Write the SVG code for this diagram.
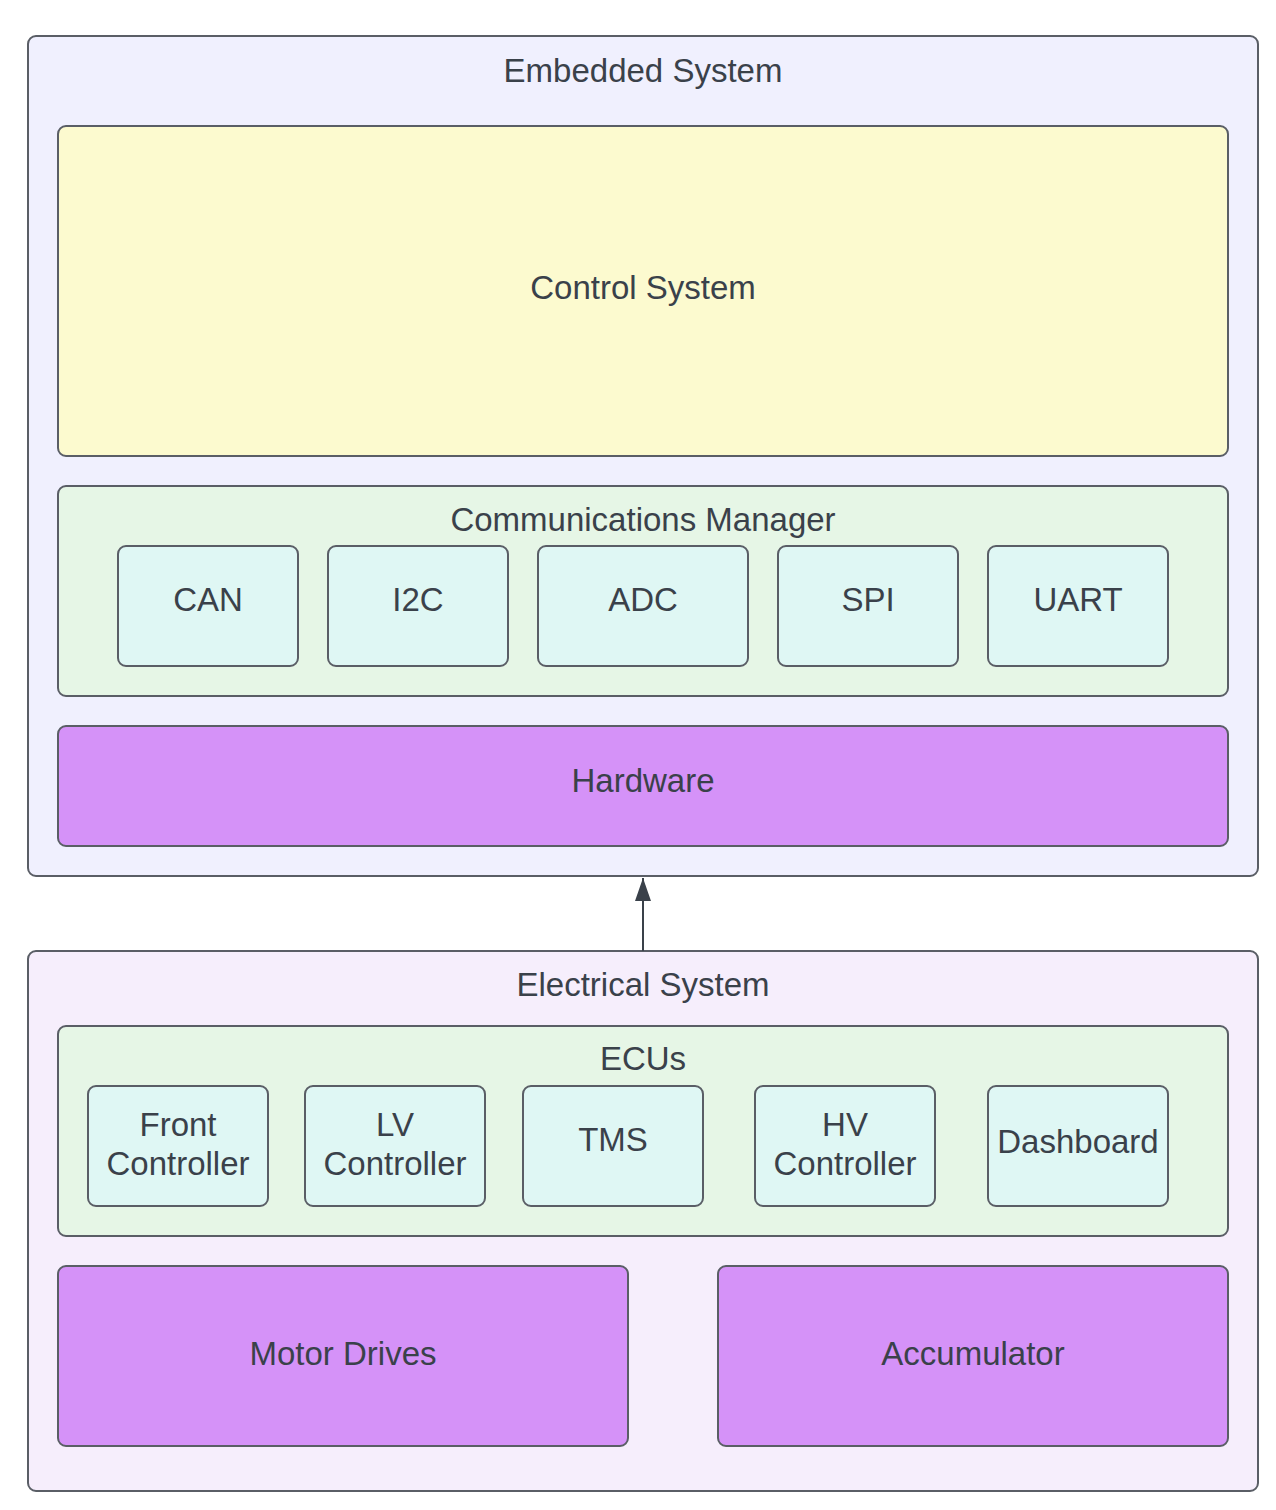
<svg xmlns="http://www.w3.org/2000/svg" width="1276" height="1510" viewBox="0 0 1276 1510">
<style>
rect{stroke:#5A5E66;stroke-width:2}
.emb{fill:#F0F0FE}
.ele{fill:#F6EEFC}
.yel{fill:#FCFACF}
.grn{fill:#E6F6E6}
.cyn{fill:#DFF7F4}
.pur{fill:#D592F8}
text{font-family:"Liberation Sans",Arial,sans-serif;font-size:33px;fill:#3A414A;text-anchor:middle}
</style>
<defs>
<marker id="ah" markerWidth="23" markerHeight="16" refX="23" refY="8" orient="auto" markerUnits="userSpaceOnUse" viewBox="0 0 23 16">
<path d="M23 8 L0 0 L0 16 Z" fill="#3A414A"/>
</marker>
</defs>
<rect width="1276" height="1510" fill="#FFFFFF" style="stroke:none"/>
<g id="embedded-system">
<rect class="emb" x="28" y="36" width="1230" height="840" rx="8"/>
<text x="643" y="82">Embedded System</text>
</g>
<g id="control-system">
<rect class="yel" x="58" y="126" width="1170" height="330" rx="8"/>
<text x="643" y="299">Control System</text>
</g>
<g id="communications-manager">
<rect class="grn" x="58" y="486" width="1170" height="210" rx="8"/>
<text x="643" y="531">Communications Manager</text>
</g>
<g id="can"><rect class="cyn" x="118" y="546" width="180" height="120" rx="8"/><text x="208" y="611">CAN</text></g>
<g id="i2c"><rect class="cyn" x="328" y="546" width="180" height="120" rx="8"/><text x="418" y="611">I2C</text></g>
<g id="adc"><rect class="cyn" x="538" y="546" width="210" height="120" rx="8"/><text x="643" y="611">ADC</text></g>
<g id="spi"><rect class="cyn" x="778" y="546" width="180" height="120" rx="8"/><text x="868" y="611">SPI</text></g>
<g id="uart"><rect class="cyn" x="988" y="546" width="180" height="120" rx="8"/><text x="1078" y="611">UART</text></g>
<g id="hardware">
<rect class="pur" x="58" y="726" width="1170" height="120" rx="8"/>
<text x="643" y="792">Hardware</text>
</g>
<g id="electrical-system">
<rect class="ele" x="28" y="951" width="1230" height="540" rx="8"/>
<text x="643" y="996">Electrical System</text>
</g>
<g id="ecus">
<rect class="grn" x="58" y="1026" width="1170" height="210" rx="8"/>
<text x="643" y="1070">ECUs</text>
</g>
<g id="front-controller"><rect class="cyn" x="88" y="1086" width="180" height="120" rx="8"/><text x="178" y="1136">Front</text><text x="178" y="1175">Controller</text></g>
<g id="lv-controller"><rect class="cyn" x="305" y="1086" width="180" height="120" rx="8"/><text x="395" y="1136">LV</text><text x="395" y="1175">Controller</text></g>
<g id="tms"><rect class="cyn" x="523" y="1086" width="180" height="120" rx="8"/><text x="613" y="1151">TMS</text></g>
<g id="hv-controller"><rect class="cyn" x="755" y="1086" width="180" height="120" rx="8"/><text x="845" y="1136">HV</text><text x="845" y="1175">Controller</text></g>
<g id="dashboard"><rect class="cyn" x="988" y="1086" width="180" height="120" rx="8"/><text x="1078" y="1153">Dashboard</text></g>
<g id="motor-drives"><rect class="pur" x="58" y="1266" width="570" height="180" rx="8"/><text x="343" y="1365">Motor Drives</text></g>
<g id="accumulator"><rect class="pur" x="718" y="1266" width="510" height="180" rx="8"/><text x="973" y="1365">Accumulator</text></g>
<g id="connectors">
<line x1="643" y1="951" x2="643" y2="878" stroke="#3A414A" stroke-width="2" marker-end="url(#ah)"/>
</g>
</svg>
